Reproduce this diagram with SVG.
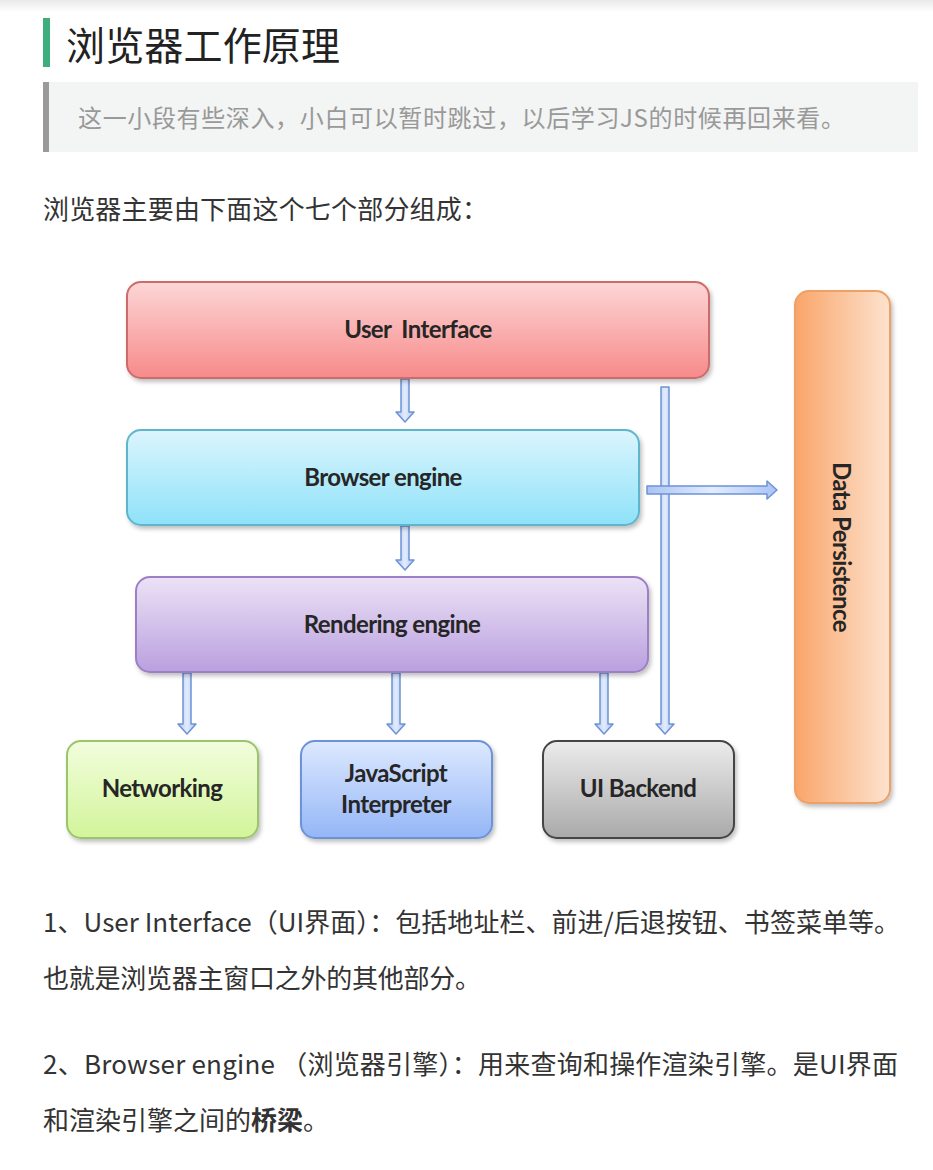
<svg xmlns="http://www.w3.org/2000/svg" width="933" height="1170" viewBox="0 0 933 1170">
<defs>
<style>
.cjk{font-family:"Noto Sans CJK SC","Liberation Sans",sans-serif;}
.lbl{font-family:Lato,"Open Sans","Liberation Sans",sans-serif;font-size:24px;font-weight:bold;fill:#262626;text-anchor:middle;letter-spacing:-0.6px;}
.box{stroke-width:2;}
.arr{fill:url(#gArr);stroke:#6e92d6;stroke-width:1.5;stroke-linejoin:round;}
.body{font-size:26px;fill:#333;}
</style>
<linearGradient id="gTop" x1="0" y1="0" x2="0" y2="1"><stop offset="0" stop-color="#e9e9e9"/><stop offset="1" stop-color="#ffffff"/></linearGradient>
<linearGradient id="gUI" x1="0" y1="0" x2="0" y2="1"><stop offset="0" stop-color="#fdd6d6"/><stop offset="1" stop-color="#f78a8a"/></linearGradient>
<linearGradient id="gBE" x1="0" y1="0" x2="0" y2="1"><stop offset="0" stop-color="#dcf5fd"/><stop offset="1" stop-color="#8ee2f9"/></linearGradient>
<linearGradient id="gRE" x1="0" y1="0" x2="0" y2="1"><stop offset="0" stop-color="#ece2f6"/><stop offset="1" stop-color="#b9a0df"/></linearGradient>
<linearGradient id="gNW" x1="0" y1="0" x2="0" y2="1"><stop offset="0" stop-color="#f2fddd"/><stop offset="1" stop-color="#d2f59a"/></linearGradient>
<linearGradient id="gJS" x1="0" y1="0" x2="0" y2="1"><stop offset="0" stop-color="#dde9ff"/><stop offset="1" stop-color="#94b6f6"/></linearGradient>
<linearGradient id="gUB" x1="0" y1="0" x2="0" y2="1"><stop offset="0" stop-color="#ececec"/><stop offset="1" stop-color="#a9a9a9"/></linearGradient>
<linearGradient id="gDP" x1="0" y1="0" x2="1" y2="0"><stop offset="0" stop-color="#f9a56a"/><stop offset="1" stop-color="#fde3cf"/></linearGradient>
<linearGradient id="gArr" x1="0" y1="0" x2="1" y2="0"><stop offset="0" stop-color="#a9c4f3"/><stop offset="0.5" stop-color="#e3ecfd"/><stop offset="1" stop-color="#a9c4f3"/></linearGradient>
<filter id="sh" x="-5%" y="-5%" width="115%" height="120%"><feDropShadow dx="2" dy="3" stdDeviation="2" flood-color="#000" flood-opacity="0.25"/></filter>
</defs>
<rect x="0" y="0" width="933" height="1170" fill="#ffffff"/>
<rect x="0" y="0" width="933" height="12" fill="url(#gTop)"/>

<g id="title">
<rect x="43" y="18" width="7" height="49" fill="#3eaf7c"/>
<text class="cjk" x="66" y="60" font-size="39" fill="#222" textLength="274">浏览器工作原理</text>
</g>
<g id="note">
<rect x="43" y="82" width="875" height="70" fill="#f3f4f4"/>
<rect x="43" y="82" width="6" height="70" fill="#9a9a9a"/>
<text class="cjk" x="78" y="127" font-size="24" fill="#999" textLength="767">这一小段有些深入，小白可以暂时跳过，以后学习JS的时候再回来看。</text>
</g>
<text class="cjk body" x="43" y="219" textLength="445">浏览器主要由下面这个七个部分组成：</text>

<g id="connectors">
<path class="arr" d="M401 379 L409 379 L409 412 L414 412 L405 422 L396 412 L401 412 Z"/>
<path class="arr" d="M401 526 L409 526 L409 560 L414 560 L405 570 L396 560 L401 560 Z"/>
<path class="arr" d="M183 673 L191 673 L191 724 L196 724 L187 734 L178 724 L183 724 Z"/>
<path class="arr" d="M392 673 L400 673 L400 724 L405 724 L396 734 L387 724 L392 724 Z"/>
<path class="arr" d="M600 673 L608 673 L608 724 L613 724 L604 734 L595 724 L600 724 Z"/>
<path class="arr" d="M661 387 L669 387 L669 724 L674 724 L665 734 L656 724 L661 724 Z"/>
<path class="arr" d="M647 486 L767 486 L767 481 L777 490 L767 499 L767 494 L647 494 Z"/>
</g>

<g id="user-interface">
<rect class="box" x="127" y="282" width="582" height="96" rx="14" fill="url(#gUI)" stroke="#cd6b6b" filter="url(#sh)"/>
<text class="lbl" x="418" y="338">User&#160; Interface</text>
</g>
<g id="browser-engine">
<rect class="box" x="127" y="430" width="512" height="95" rx="14" fill="url(#gBE)" stroke="#5fb6cc" filter="url(#sh)"/>
<text class="lbl" x="383" y="486">Browser engine</text>
</g>
<g id="rendering-engine">
<rect class="box" x="136" y="577" width="512" height="95" rx="14" fill="url(#gRE)" stroke="#9c80c6" filter="url(#sh)"/>
<text class="lbl" x="392" y="633">Rendering engine</text>
</g>
<g id="networking">
<rect class="box" x="67" y="741" width="191" height="97" rx="14" fill="url(#gNW)" stroke="#9cc46a" filter="url(#sh)"/>
<text class="lbl" x="162" y="797">Networking</text>
</g>
<g id="js-interpreter">
<rect class="box" x="301" y="741" width="191" height="97" rx="14" fill="url(#gJS)" stroke="#6c93d8" filter="url(#sh)"/>
<text class="lbl" x="396" y="782">JavaScript</text>
<text class="lbl" x="396" y="813">Interpreter</text>
</g>
<g id="ui-backend">
<rect class="box" x="543" y="741" width="191" height="97" rx="14" fill="url(#gUB)" stroke="#444" filter="url(#sh)"/>
<text class="lbl" x="638" y="797">UI Backend</text>
</g>
<g id="data-persistence">
<rect class="box" x="795" y="291" width="95" height="512" rx="14" fill="url(#gDP)" stroke="#eea066" filter="url(#sh)"/>
<text class="lbl" x="841" y="547" transform="rotate(90 841 547)" dy="8">Data Persistence</text>
</g>

<g id="body-text">
<text class="cjk body" x="43" y="932" textLength="857">1、User Interface（UI界面）：包括地址栏、前进/后退按钮、书签菜单等。</text>
<text class="cjk body" x="43" y="988" textLength="438">也就是浏览器主窗口之外的其他部分。</text>
<text class="cjk body" x="43" y="1074" textLength="855">2、Browser engine （浏览器引擎）：用来查询和操作渲染引擎。是UI界面</text>
<text class="cjk body" x="43" y="1130">和渲染引擎之间的<tspan font-weight="bold">桥梁</tspan>。</text>
</g>
</svg>
